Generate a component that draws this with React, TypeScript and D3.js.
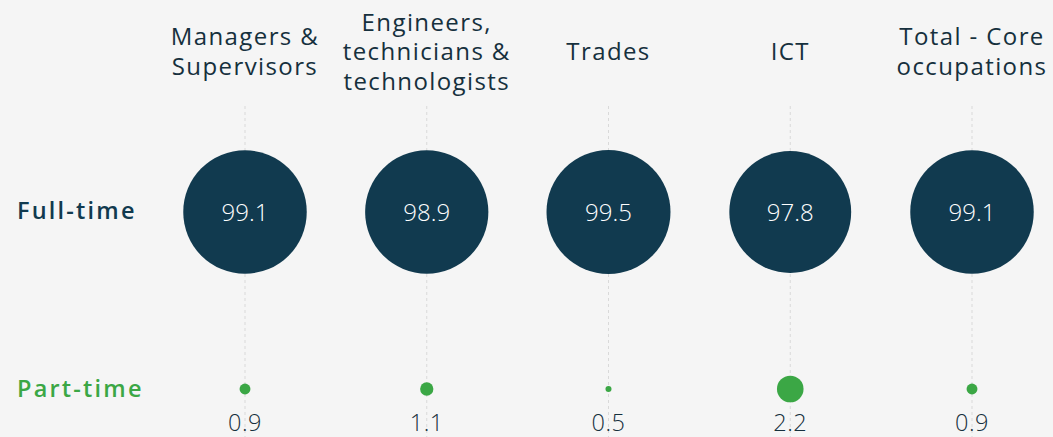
import React from "react";
import * as d3 from "d3";

const categories = [
  ["Managers &", "Supervisors"],
  ["Engineers,", "technicians &", "technologists"],
  ["Trades"],
  ["ICT"],
  ["Total - Core", "occupations"],
];
const fullTime = [99.1, 98.9, 99.5, 97.8, 99.1];
const partTime = [0.9, 1.1, 0.5, 2.2, 0.9];
const rowLabels = ["Full-time", "Part-time"];

const W = 1053;
const H = 437;
const NAVY = "#113a4f";
const GREEN = "#3ba745";
const TEXT = "#16303d";
const FONT = "'Open Sans', 'DejaVu Sans', sans-serif";

export default function App() {
  const keys = categories.map((c) => c.join(" "));
  const x = d3.scalePoint<string>().domain(keys).range([245, 972]);
  const rFull = d3.scaleLinear().domain([0, d3.max(fullTime)!]).range([0, 62]);
  const rPart = d3.scaleLinear().domain([0, d3.max(partTime)!]).range([0, 13.3]);
  const yFull = 212;
  const yPart = 389;
  const lineH = 29.5;

  return (
    <div style={{ position: "fixed", left: 0, top: 0, width: W, height: H, background: "#f5f5f5" }}>
      <svg width={W} height={H} style={{ display: "block" }}>
        <rect width={W} height={H} fill="#f5f5f5" />
        {keys.map((k) => (
          <line
            key={"g" + k}
            x1={x(k)}
            x2={x(k)}
            y1={106}
            y2={H}
            stroke="#d9d9d9"
            strokeWidth={1}
            strokeDasharray="3,3"
          />
        ))}
        {categories.map((lines, i) =>
          lines.map((l, j) => (
            <text
              key={"h" + i + "-" + j}
              x={x(keys[i])}
              y={60 + (j - (lines.length - 1) / 2) * lineH}
              textAnchor="middle"
              fontFamily={FONT}
              fontSize={24}
              letterSpacing={1.4}
              fill={TEXT}
            >
              {l}
            </text>
          ))
        )}
        <text x={17} y={219} fontFamily={FONT} fontSize={23.5} fontWeight={600} letterSpacing={2.2} fill={NAVY}>
          {rowLabels[0]}
        </text>
        <text x={17} y={397} fontFamily={FONT} fontSize={23.5} fontWeight={600} letterSpacing={2.2} fill={GREEN}>
          {rowLabels[1]}
        </text>
        {fullTime.map((v, i) => (
          <g key={"f" + i}>
            <circle cx={x(keys[i])} cy={yFull} r={rFull(v)} fill={NAVY} />
            <text
              x={x(keys[i])}
              y={yFull + 8.5}
              textAnchor="middle"
              fontFamily={FONT}
              fontSize={24}
              fontWeight={300}
              fill="#ffffff"
            >
              {v.toFixed(1)}
            </text>
          </g>
        ))}
        {partTime.map((v, i) => (
          <g key={"p" + i}>
            <circle cx={x(keys[i])} cy={yPart} r={rPart(v)} fill={GREEN} />
            <text
              x={x(keys[i])}
              y={431}
              textAnchor="middle"
              fontFamily={FONT}
              fontSize={23.5}
              fontWeight={300}
              letterSpacing={0.5}
              fill={TEXT}
            >
              {v.toFixed(1)}
            </text>
          </g>
        ))}
      </svg>
    </div>
  );
}
